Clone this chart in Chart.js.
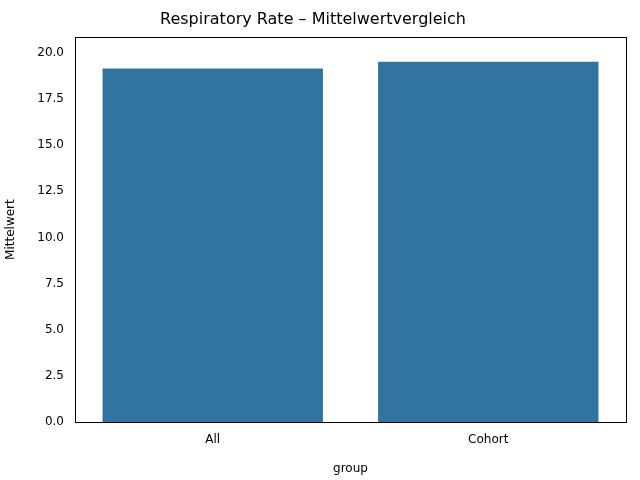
<!DOCTYPE html>
<html><head><meta charset="utf-8">
<script src="https://cdn.jsdelivr.net/npm/chart.js@4"></script>
<style>body{margin:0;background:#fff}</style></head>
<body><div style="width:640px;height:480px"><canvas id="c" width="640" height="480"></canvas></div>
<script>
const categories = ["All", "Cohort"];
const values = [19.15, 19.52];
const yTicks = [0, 2.5, 5, 7.5, 10, 12.5, 15, 17.5, 20];

const frame = {
  id: 'frame',
  afterDraw(chart) {
    const a = chart.chartArea, ctx = chart.ctx;
    ctx.save(); ctx.strokeStyle = '#000'; ctx.lineWidth = 1;
    ctx.strokeRect(Math.round(a.left)+0.5, Math.round(a.top)+0.5, Math.round(a.right-a.left), Math.round(a.bottom-a.top));
    ctx.restore();
  }
};
Chart.defaults.font.family = "DejaVu Sans";
Chart.defaults.color = '#000';
new Chart(document.getElementById('c'), {
  type: 'bar',
  data: { labels: categories, datasets: [{ data: values, backgroundColor: '#3274a1', barPercentage: 0.8, categoryPercentage: 1 }] },
  options: {
    responsive: false, animation: false,
    layout: { padding: { left: 0, right: 14, top: 0, bottom: 0 } },
    plugins: {
      legend: { display: false }, tooltip: { enabled: false },
      title: { display: true, text: 'Respiratory Rate – Mittelwertvergleich', font: { size: 16, weight: 'normal' }, padding: { top: 10, bottom: 8 } }
    },
    scales: {
      x: {
        grid: { display: false, drawTicks: true },
        border: { color: '#000' },
        ticks: { font: { size: 12 } },
        title: { display: true, text: 'group', font: { size: 12 } },
        afterFit(s) { s.height = 58; }
      },
      y: {
        min: 0, max: 20.85,
        grid: { display: false },
        border: { color: '#000' },
        afterBuildTicks(s) { s.ticks = yTicks.map(v => ({ value: v })); },
        ticks: { font: { size: 12 }, callback: v => Number(v).toFixed(1) },
        title: { display: true, text: 'Mittelwert', font: { size: 12 } },
        afterFit(s) { s.width = 75; }
      }
    }
  },
  plugins: [frame]
});
</script></body></html>
